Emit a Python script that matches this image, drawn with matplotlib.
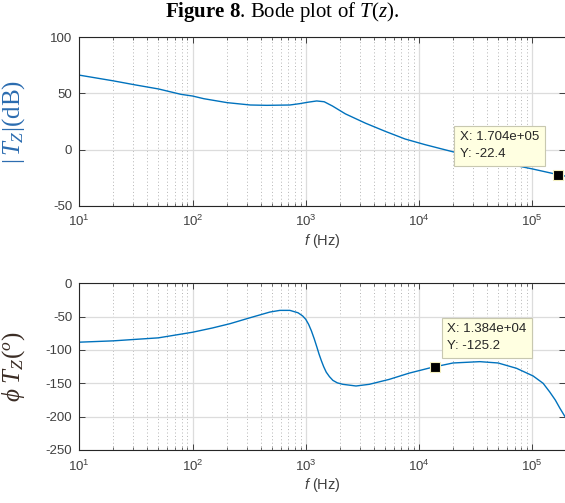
import numpy as np
import matplotlib
matplotlib.use('Agg')
import matplotlib.pyplot as plt
from matplotlib.ticker import LogLocator, NullFormatter

plt.rcParams['font.family'] = ['Liberation Sans', 'DejaVu Sans']
plt.rcParams['mathtext.fontset'] = 'custom'
plt.rcParams['mathtext.rm'] = 'Liberation Serif'
plt.rcParams['mathtext.it'] = 'Liberation Serif:italic'
plt.rcParams['mathtext.bf'] = 'Liberation Serif:bold'
plt.rcParams['mathtext.sf'] = 'Liberation Sans:italic'
plt.rcParams['mathtext.fallback'] = 'stix'
plt.rcParams['axes.unicode_minus'] = False

# magnitude response |T_z| (dB)
mag_freq = [10, 20, 31.6, 50, 79, 100, 126, 202, 324, 453, 724, 885, 1050, 1250,
            1455, 1722, 2240, 3370, 5050, 7550, 11300, 20700, 50000, 100000,
            170400, 195000]
mag_db = [66.3, 61.2, 57.5, 54.0, 49.2, 47.7, 45.3, 41.8, 39.7, 39.4, 39.7, 40.9,
          42.2, 43.3, 42.6, 38.8, 31.8, 23.5, 16.2, 9.4, 4.4, -2.4, -11.0, -17.2,
          -22.4, -23.6]

# phase response (deg)
ph_freq = [10, 20, 30, 50, 100, 150, 215, 323, 483, 591, 724, 855, 940, 1000, 1060,
           1122, 1190, 1257, 1310, 1373, 1440, 1518, 1620, 1738, 1900, 2125, 2782,
           3640, 5460, 8170, 12200, 13840, 20000, 34500, 50000, 72800, 102000,
           125000, 143000, 160000, 176000, 195000]
ph_deg = [-88.3, -86.3, -84.3, -81.8, -73.4, -67.0, -60.5, -51.6, -43.1, -40.6,
          -40.6, -44.2, -49.0, -54.0, -61.5, -71.3, -83.5, -96.1, -106.0, -115.9,
          -125.0, -133.3, -140.0, -145.6, -149.3, -151.5, -154.0, -151.5, -144.1,
          -134.8, -127.3, -125.2, -119.5, -117.5, -119.5, -127.5, -139.0, -150.0,
          -163.0, -175.0, -187.5, -200.0]

# data tips
tip_mag = (1.704e5, -22.4)
tip_ph = (1.384e4, -125.2)

mag_ticks = [-50, 0, 50, 100]
ph_ticks = [-250, -200, -150, -100, -50, 0]

LINE = '#0072BD'
W, H = 565, 503
AX_L = 79.3


def style_axes(ax, ylim, yticks):
    ax.set_xscale('log')
    ax.set_xlim(10, 1.95e5)
    ax.set_ylim(*ylim)
    ax.set_yticks(yticks)
    ax.xaxis.set_major_locator(LogLocator(base=10, numticks=10))
    ax.xaxis.set_minor_locator(LogLocator(base=10, subs=np.arange(2, 10), numticks=20))
    ax.xaxis.set_minor_formatter(NullFormatter())
    ax.grid(True, which='major', color='#dcdcdc', lw=0.9, ls='-')
    ax.grid(True, which='minor', axis='x', color='#b4b4b4', lw=0.7, ls=(0, (1, 2.5)))
    ax.set_axisbelow(True)
    ax.tick_params(which='both', direction='in', top=True, right=True,
                   colors='#262626', labelcolor='#404040', labelsize=9.5)
    ax.tick_params(which='major', length=4, width=0.6)
    ax.tick_params(which='minor', length=2.5, width=0.5)
    ax.tick_params(axis='x', pad=6)
    ax.tick_params(axis='y', pad=5)
    for s in ['left', 'top', 'bottom']:
        ax.spines[s].set_color('#262626')
        ax.spines[s].set_linewidth(0.8)
    ax.spines['right'].set_visible(False)
    ax.set_xlabel(r'$\mathsf{f}$ (Hz)', fontsize=10.5, color='#404040', labelpad=2)
    ax.yaxis.set_label_coords((27 - AX_L) / (W - AX_L), 0.5)


def data_tip(ax, xy, text, dx, dy):
    ax.plot(*xy, marker='s', ms=7.5, mfc='black', mec='#f4f0c0', mew=0.8,
            ls='none', zorder=5, clip_on=False)
    ax.annotate(text, xy=xy, xytext=(dx, dy), textcoords='offset points',
                ha='left', va='center', fontsize=9.5, color='#262626',
                linespacing=1.55, zorder=6,
                bbox=dict(boxstyle='square,pad=0.42', fc='#ffffe1', ec='#c8c8b0', lw=0.8))


fig = plt.figure(figsize=(W / 100, H / 100), dpi=100)

ax1 = fig.add_axes([AX_L / W, 1 - 205.7 / H, 1 - AX_L / W, (205.7 - 37.3) / H])
ax1.plot(mag_freq, mag_db, color=LINE, lw=1.0)
style_axes(ax1, (-50, 100), mag_ticks)
ax1.set_ylabel(r'$|\,T_{\mathit{Z}}|$(dB)', fontsize=18, color='#2b6cb0',
               family='Liberation Serif')
data_tip(ax1, tip_mag, 'X: 1.704e+05\nY: -22.4', -71, 21)

ax2 = fig.add_axes([AX_L / W, 1 - 450 / H, 1 - AX_L / W, (450 - 283.3) / H])
ax2.plot(ph_freq, ph_deg, color=LINE, lw=1.0)
style_axes(ax2, (-250, 0), ph_ticks)
ax2.set_ylabel(r'$\phi\ T_{\mathit{Z}}(^{\mathit{o}})$', fontsize=18, color='#3a2c24',
               family='Liberation Serif')
data_tip(ax2, tip_ph, 'X: 1.384e+04\nY: -125.2', 9, 21)

fig.text(0.5, 1 - 12 / H, r'$\mathbf{Figure\ 8}$. Bode plot of $\mathit{T(z)}$.',
         ha='center', va='center', fontsize=15, family='Liberation Serif', color='black')

fig.savefig('out.png', dpi=100)
